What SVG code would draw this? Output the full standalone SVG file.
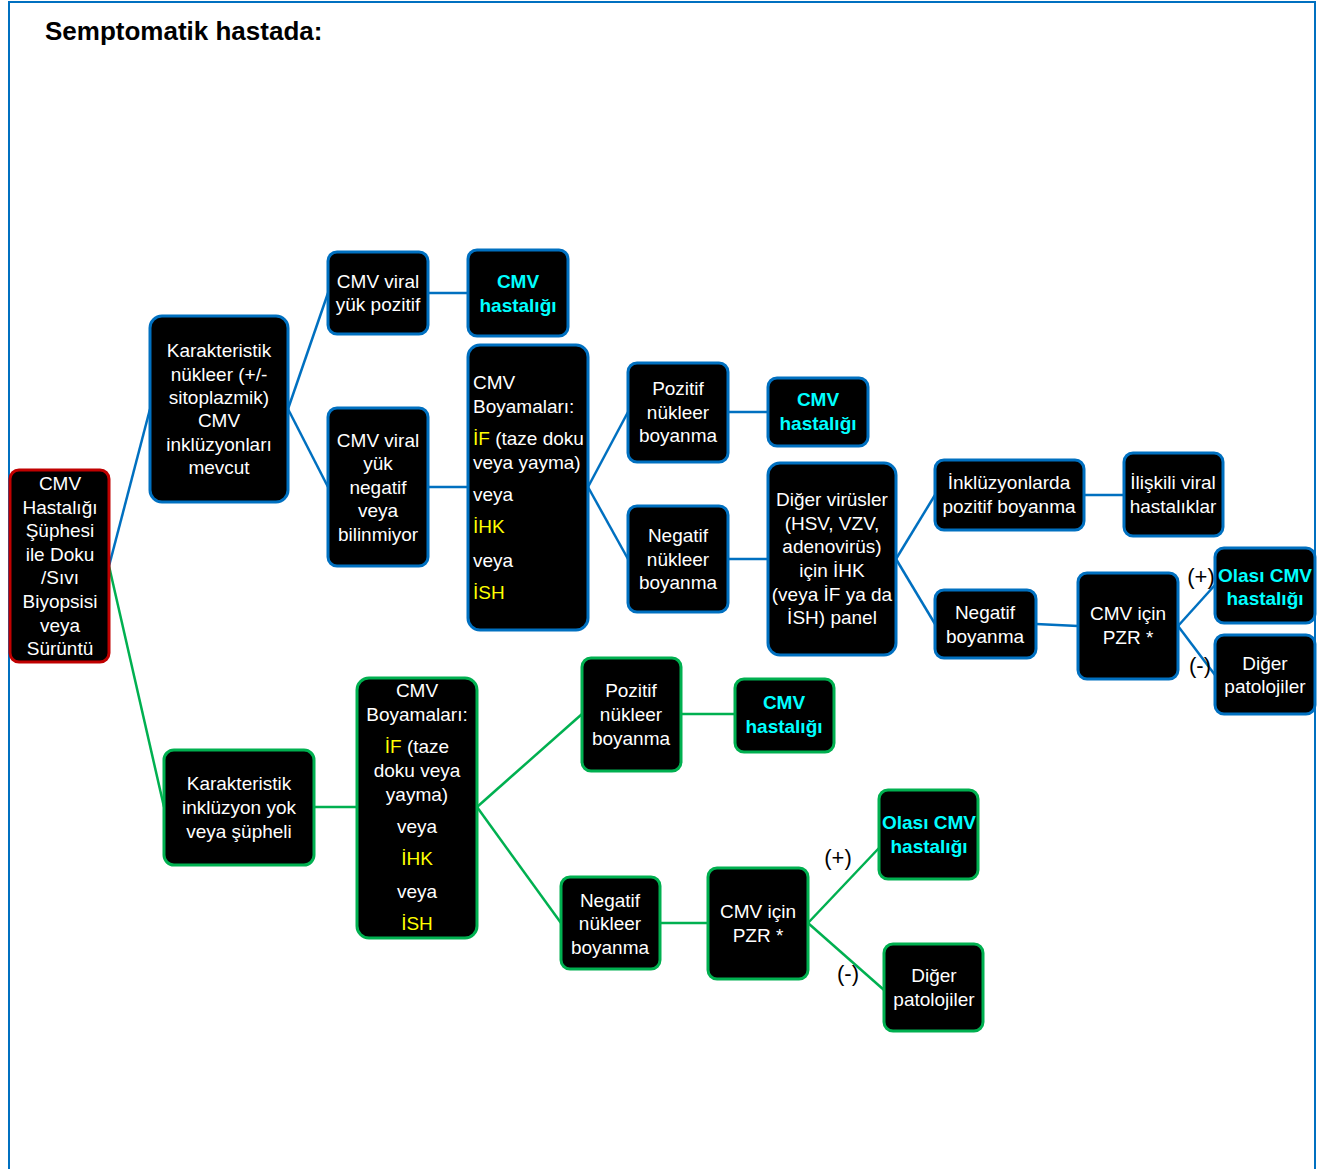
<svg xmlns="http://www.w3.org/2000/svg" width="1332" height="1169" viewBox="0 0 1332 1169">
<style>
.n{fill:#000;stroke-width:3}
.b{stroke:#0070C0}
.g{stroke:#00B050}
.r{stroke:#C00000}
.t{font-family:"Liberation Sans",Arial,sans-serif;font-size:19px;fill:#fff;text-anchor:middle}
.l{text-anchor:start}
.c{fill:#00FFFF;font-weight:bold}
.y{fill:#FFFF00}
.lab{font-family:"Liberation Sans",Arial,sans-serif;font-size:22px;fill:#000;text-anchor:middle}
.cb line{stroke:#0070C0;stroke-width:2.5;fill:none}
.cg line{stroke:#00B050;stroke-width:2.5;fill:none}
</style>
<rect x="0" y="0" width="1332" height="1169" fill="#fff"/>
<path d="M9,1180 V2 H1315 V1180" fill="none" stroke="#0070C0" stroke-width="2"/>
<text x="45" y="40" font-family="Liberation Sans,Arial,sans-serif" font-size="26" font-weight="bold" fill="#000">Semptomatik hastada:</text>

<g id="connectors">
<g class="cb">
<line x1="109" y1="566" x2="150" y2="409"/>
<line x1="288" y1="409" x2="328" y2="293"/>
<line x1="288" y1="409" x2="328" y2="487"/>
<line x1="428" y1="293" x2="468" y2="293"/>
<line x1="428" y1="487" x2="468" y2="487"/>
<line x1="588" y1="487" x2="628" y2="412"/>
<line x1="588" y1="487" x2="628" y2="559"/>
<line x1="728" y1="412" x2="768" y2="412"/>
<line x1="728" y1="559" x2="768" y2="559"/>
<line x1="896" y1="559" x2="935" y2="495"/>
<line x1="896" y1="559" x2="935" y2="624"/>
<line x1="1084" y1="495" x2="1124" y2="495"/>
<line x1="1036" y1="624" x2="1078" y2="626"/>
<line x1="1178" y1="626" x2="1215" y2="585"/>
<line x1="1178" y1="626" x2="1215" y2="675"/>
</g>
<g class="cg">
<line x1="109" y1="566" x2="164" y2="807"/>
<line x1="314" y1="807" x2="357" y2="807"/>
<line x1="477" y1="807" x2="582" y2="714"/>
<line x1="477" y1="807" x2="561" y2="923"/>
<line x1="681" y1="714" x2="735" y2="714"/>
<line x1="660" y1="923" x2="708" y2="923"/>
<line x1="808" y1="923" x2="879" y2="848"/>
<line x1="808" y1="923" x2="884" y2="990"/>
</g>
</g>

<g id="root">
<rect class="n r" x="10" y="470" width="99" height="192" rx="9"/>
<text class="t"><tspan x="60" y="490">CMV</tspan><tspan x="60" y="514">Hastalığı</tspan><tspan x="60" y="537">Şüphesi</tspan><tspan x="60" y="561">ile Doku</tspan><tspan x="60" y="584">/Sıvı</tspan><tspan x="60" y="608">Biyopsisi</tspan><tspan x="60" y="632">veya</tspan><tspan x="60" y="655">Sürüntü</tspan></text>
</g>

<g id="kar-nukleer">
<rect class="n b" x="150" y="316" width="138" height="186" rx="12"/>
<text class="t"><tspan x="219" y="357">Karakteristik</tspan><tspan x="219" y="381">nükleer (+/-</tspan><tspan x="219" y="404">sitoplazmik)</tspan><tspan x="219" y="427">CMV</tspan><tspan x="219" y="451">inklüzyonları</tspan><tspan x="219" y="474">mevcut</tspan></text>
</g>

<g id="viral-poz">
<rect class="n b" x="328" y="252" width="100" height="82" rx="9"/>
<text class="t"><tspan x="378" y="288">CMV viral</tspan><tspan x="378" y="311">yük pozitif</tspan></text>
</g>

<g id="cmv-hast-1">
<rect class="n b" x="468" y="250" width="100" height="86" rx="9"/>
<text class="t c"><tspan x="518" y="288">CMV</tspan><tspan x="518" y="312">hastalığı</tspan></text>
</g>

<g id="viral-neg">
<rect class="n b" x="328" y="408" width="100" height="158" rx="9"/>
<text class="t"><tspan x="378" y="447">CMV viral</tspan><tspan x="378" y="470">yük</tspan><tspan x="378" y="494">negatif</tspan><tspan x="378" y="517">veya</tspan><tspan x="378" y="541">bilinmiyor</tspan></text>
</g>

<g id="boyama-b">
<rect class="n b" x="468" y="345" width="120" height="285" rx="12"/>
<text class="t l"><tspan x="473" y="389">CMV</tspan><tspan x="473" y="413">Boyamaları:</tspan><tspan x="473" y="445" class="y">İF</tspan><tspan> (taze doku</tspan><tspan x="473" y="469">veya yayma)</tspan><tspan x="473" y="501">veya</tspan><tspan x="473" y="533" class="y">İHK</tspan><tspan x="473" y="567">veya</tspan><tspan x="473" y="599" class="y">İSH</tspan></text>
</g>

<g id="poz-nuk-b">
<rect class="n b" x="628" y="363" width="100" height="99" rx="9"/>
<text class="t"><tspan x="678" y="395">Pozitif</tspan><tspan x="678" y="419">nükleer</tspan><tspan x="678" y="442">boyanma</tspan></text>
</g>

<g id="cmv-hast-2">
<rect class="n b" x="768" y="378" width="100" height="68" rx="9"/>
<text class="t c"><tspan x="818" y="406">CMV</tspan><tspan x="818" y="430">hastalığı</tspan></text>
</g>

<g id="neg-nuk-b">
<rect class="n b" x="628" y="506" width="100" height="106" rx="9"/>
<text class="t"><tspan x="678" y="542">Negatif</tspan><tspan x="678" y="566">nükleer</tspan><tspan x="678" y="589">boyanma</tspan></text>
</g>

<g id="diger-virus">
<rect class="n b" x="768" y="463" width="128" height="192" rx="12"/>
<text class="t"><tspan x="832" y="506">Diğer virüsler</tspan><tspan x="832" y="530">(HSV, VZV,</tspan><tspan x="832" y="553">adenovirüs)</tspan><tspan x="832" y="577">için İHK</tspan><tspan x="832" y="601">(veya İF ya da</tspan><tspan x="832" y="624">İSH) panel</tspan></text>
</g>

<g id="inkl-poz">
<rect class="n b" x="935" y="460" width="149" height="70" rx="9"/>
<text class="t"><tspan x="1009" y="489">İnklüzyonlarda</tspan><tspan x="1009" y="513">pozitif boyanma</tspan></text>
</g>

<g id="iliskili">
<rect class="n b" x="1124" y="453" width="99" height="83" rx="9"/>
<text class="t"><tspan x="1173" y="489">İlişkili viral</tspan><tspan x="1173" y="513">hastalıklar</tspan></text>
</g>

<g id="neg-boy">
<rect class="n b" x="935" y="590" width="101" height="68" rx="9"/>
<text class="t"><tspan x="985" y="619">Negatif</tspan><tspan x="985" y="643">boyanma</tspan></text>
</g>

<g id="pzr-b">
<rect class="n b" x="1078" y="573" width="100" height="106" rx="9"/>
<text class="t"><tspan x="1128" y="620">CMV için</tspan><tspan x="1128" y="644">PZR *</tspan></text>
</g>

<g id="olasi-b">
<rect class="n b" x="1215" y="548" width="100" height="75" rx="9"/>
<text class="t c"><tspan x="1265" y="582">Olası CMV</tspan><tspan x="1265" y="605">hastalığı</tspan></text>
</g>

<g id="diger-pat-b">
<rect class="n b" x="1215" y="635" width="100" height="79" rx="9"/>
<text class="t"><tspan x="1265" y="670">Diğer</tspan><tspan x="1265" y="693">patolojiler</tspan></text>
</g>

<text class="lab" x="1201" y="584">(+)</text>
<text class="lab" x="1200" y="673">(-)</text>

<g id="kar-yok">
<rect class="n g" x="164" y="750" width="150" height="115" rx="10"/>
<text class="t"><tspan x="239" y="790">Karakteristik</tspan><tspan x="239" y="814">inklüzyon yok</tspan><tspan x="239" y="838">veya şüpheli</tspan></text>
</g>

<g id="boyama-g">
<rect class="n g" x="357" y="678" width="120" height="260" rx="12"/>
<text class="t"><tspan x="417" y="697">CMV</tspan><tspan x="417" y="721">Boyamaları:</tspan><tspan x="417" y="753"><tspan class="y">İF</tspan> (taze</tspan><tspan x="417" y="777">doku veya</tspan><tspan x="417" y="801">yayma)</tspan><tspan x="417" y="833">veya</tspan><tspan x="417" y="865" class="y">İHK</tspan><tspan x="417" y="898">veya</tspan><tspan x="417" y="930" class="y">İSH</tspan></text>
</g>

<g id="poz-nuk-g">
<rect class="n g" x="582" y="658" width="99" height="113" rx="9"/>
<text class="t"><tspan x="631" y="697">Pozitif</tspan><tspan x="631" y="721">nükleer</tspan><tspan x="631" y="745">boyanma</tspan></text>
</g>

<g id="cmv-hast-g">
<rect class="n g" x="735" y="679" width="99" height="73" rx="9"/>
<text class="t c"><tspan x="784" y="709">CMV</tspan><tspan x="784" y="733">hastalığı</tspan></text>
</g>

<g id="neg-nuk-g">
<rect class="n g" x="561" y="877" width="99" height="92" rx="9"/>
<text class="t"><tspan x="610" y="907">Negatif</tspan><tspan x="610" y="930">nükleer</tspan><tspan x="610" y="954">boyanma</tspan></text>
</g>

<g id="pzr-g">
<rect class="n g" x="708" y="868" width="100" height="111" rx="9"/>
<text class="t"><tspan x="758" y="918">CMV için</tspan><tspan x="758" y="942">PZR *</tspan></text>
</g>

<g id="olasi-g">
<rect class="n g" x="879" y="790" width="99" height="89" rx="9"/>
<text class="t c"><tspan x="929" y="829">Olası CMV</tspan><tspan x="929" y="853">hastalığı</tspan></text>
</g>

<g id="diger-pat-g">
<rect class="n g" x="884" y="944" width="99" height="87" rx="9"/>
<text class="t"><tspan x="934" y="982">Diğer</tspan><tspan x="934" y="1006">patolojiler</tspan></text>
</g>

<text class="lab" x="838" y="865">(+)</text>
<text class="lab" x="848" y="981">(-)</text>
</svg>
